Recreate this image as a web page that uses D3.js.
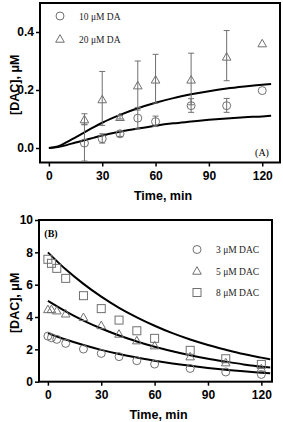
<!DOCTYPE html>
<html><head><meta charset="utf-8">
<script src="https://cdn.jsdelivr.net/npm/d3@7"></script>
<style>body{margin:0;background:#fff}svg{display:block}</style>
</head><body>
<script>
// ---- Panel A data ----
const timeA = [20, 30, 40, 50, 60, 80, 100, 120];
const da10 = [0.017, 0.032, 0.049, 0.103, 0.091, 0.146, 0.146, 0.198];
const da10Lo = [-0.045, 0.017, 0.040, 0.066, 0.074, 0.123, 0.123, null];
const da10Hi = [0.080, 0.049, 0.058, 0.140, 0.110, 0.170, 0.171, null];
const da20 = [0.098, 0.167, 0.106, 0.215, 0.235, 0.235, 0.314, 0.36];
const da20Lo = [0.082, 0.078, 0.100, 0.131, 0.155, 0.149, 0.232, null];
const da20Hi = [0.118, 0.264, 0.112, 0.300, 0.323, 0.327, 0.405, null];
const fitTimeA = [0, 5, 10, 15, 20, 25, 30, 40, 50, 60, 70, 80, 90, 100, 110, 120, 125];
const fitA20 = [0, 0.005, 0.02, 0.037, 0.054, 0.071, 0.087, 0.114, 0.137, 0.156, 0.172, 0.185, 0.196, 0.205, 0.212, 0.218, 0.221];
const fitA10 = [0, 0.003, 0.01, 0.019, 0.027, 0.035, 0.043, 0.056, 0.067, 0.077, 0.085, 0.091, 0.097, 0.102, 0.106, 0.109, 0.111];
const xTicksA = [0, 30, 60, 90, 120];
const yTicksA = [0.0, 0.2, 0.4];
const legendA = ["10 \u03bcM DA", "20 \u03bcM DA"];

// ---- Panel B data ----
const timeB = [0, 2, 5, 10, 20, 30, 40, 50, 60, 80, 100, 120];
const dac3 = [2.82, 2.72, 2.62, 2.37, 2.02, 1.75, 1.55, 1.30, 1.09, 0.82, 0.60, 0.45];
const dac5 = [4.47, 4.47, 4.39, 4.20, 3.98, 3.48, 2.95, 2.54, 2.23, 1.55, 1.18, 0.82];
const dac8 = [7.57, 7.32, 7.01, 6.39, 5.32, 4.52, 3.81, 3.15, 2.68, 1.94, 1.42, 1.07];
const fitTimeB = [0, 10, 20, 30, 40, 50, 60, 70, 80, 90, 100, 110, 120, 125];
const fitB8 = [8, 6.95, 6.05, 5.26, 4.57, 3.98, 3.46, 3.0, 2.61, 2.27, 1.98, 1.71, 1.49, 1.38];
const fitB5 = [5, 4.35, 3.78, 3.29, 2.86, 2.49, 2.16, 1.88, 1.63, 1.42, 1.24, 1.07, 0.93, 0.88];
const fitB3 = [3, 2.61, 2.27, 1.97, 1.71, 1.49, 1.30, 1.13, 0.98, 0.85, 0.74, 0.64, 0.56, 0.52];
const xTicksB = [0, 30, 60, 90, 120];
const yTicksB = [0, 2, 4, 6, 8, 10];
const legendB = ["3 \u03bcM DAC", "5 \u03bcM DAC", "8 \u03bcM DAC"];

const W = 283, H = 422;
const svg = d3.select("body").append("svg").attr("width", W).attr("height", H);
const gray = "#707070";
const tickFont = "bold 12px 'Liberation Sans', Arial, sans-serif";
const labelFont = "bold 12.5px 'Liberation Sans', Arial, sans-serif";
const serif = "'Liberation Serif', 'Times New Roman', serif";

function sym(g, type, x, y) {
  if (type === "circle") {
    g.append("circle").attr("cx", x).attr("cy", y).attr("r", 4)
      .attr("fill", "none").attr("stroke", gray).attr("stroke-width", 1);
  } else if (type === "triangle") {
    const s = 4.3;
    g.append("path").attr("d", `M${x},${y - s}L${x + s},${y + s * 0.75}L${x - s},${y + s * 0.75}Z`)
      .attr("fill", "none").attr("stroke", gray).attr("stroke-width", 1);
  } else {
    g.append("rect").attr("x", x - 4).attr("y", y - 4).attr("width", 8).attr("height", 8)
      .attr("fill", "none").attr("stroke", gray).attr("stroke-width", 1);
  }
}

function panel(opt) {
  const g = svg.append("g");
  const x = d3.scaleLinear().domain(opt.xd).range([opt.l, opt.r]);
  const y = d3.scaleLinear().domain(opt.yd).range([opt.b, opt.t]);
  // axes
  const ax = g.append("g").attr("transform", `translate(0,${opt.b})`)
    .call(d3.axisBottom(x).tickValues(opt.xt).tickSize(4).tickPadding(5).tickFormat(d3.format("d")));
  const ay = g.append("g").attr("transform", `translate(${opt.l},0)`)
    .call(d3.axisLeft(y).tickValues(opt.yt).tickSize(4).tickPadding(2).tickFormat(opt.yf));
  [ax, ay].forEach(a => {
    a.select(".domain").remove();
    a.selectAll("line").attr("stroke", "#000").attr("stroke-width", 1.5);
    a.selectAll("text").style("font", tickFont).attr("fill", "#000");
  });
  // frame
  g.append("rect").attr("x", opt.l).attr("y", opt.t).attr("width", opt.r - opt.l).attr("height", opt.b - opt.t)
    .attr("fill", "none").attr("stroke", "#000").attr("stroke-width", 2);
  // fit lines
  const line = d3.line().x(d => x(d[0])).y(d => y(d[1])).curve(d3.curveMonotoneX);
  opt.fits.forEach(f => {
    g.append("path").datum(opt.fitT.map((t, i) => [t, f[i]])).attr("d", line)
      .attr("fill", "none").attr("stroke", "#000").attr("stroke-width", 2);
  });
  // error bars
  (opt.errs || []).forEach(e => {
    opt.time.forEach((t, i) => {
      if (e.lo[i] == null) return;
      const cx = x(t);
      g.append("line").attr("x1", cx).attr("x2", cx).attr("y1", y(e.lo[i])).attr("y2", y(e.hi[i]))
        .attr("stroke", gray).attr("stroke-width", 1);
      [e.lo[i], e.hi[i]].forEach(v => g.append("line").attr("x1", cx - 3).attr("x2", cx + 3)
        .attr("y1", y(v)).attr("y2", y(v)).attr("stroke", gray).attr("stroke-width", 1));
    });
  });
  // points
  opt.series.forEach(s => {
    opt.time.forEach((t, i) => sym(g, s.type, x(t), y(s.v[i])));
  });
  // legend
  opt.legend.forEach((txt, i) => {
    const ly = opt.legY + i * opt.legDy;
    sym(g, opt.series[i].type, opt.legX, ly);
    g.append("text").attr("x", opt.legX + 19).attr("y", ly + 3.5).text(txt)
      .style("font-family", serif).style("font-size", "9.5px").attr("fill", "#222");
  });
  // axis labels
  g.append("text").attr("x", (opt.l + opt.r) / 2 + 3).attr("y", opt.b + 37).attr("text-anchor", "middle")
    .style("font", labelFont).text("Time, min");
  g.append("text").attr("transform", `translate(19,${(opt.t + opt.b) / 2 + 2}) rotate(-90)`)
    .attr("text-anchor", "middle").style("font", labelFont).text("[DAC], \u03bcM");
  g.append("text").attr("x", opt.tagX).attr("y", opt.tagY).attr("text-anchor", "middle")
    .style("font-family", serif).style("font-size", "10px").style("font-weight", opt.tagBold ? "bold" : "normal")
    .text(opt.tag);
}

panel({
  l: 40, r: 280, t: 3, b: 162.5, xd: [-5, 130], yd: [-0.05, 0.5],
  xt: xTicksA, yt: yTicksA, yf: d3.format(".1f"),
  time: timeA,
  series: [{ type: "circle", v: da10 }, { type: "triangle", v: da20 }],
  errs: [{ lo: da10Lo, hi: da10Hi }, { lo: da20Lo, hi: da20Hi }],
  fitT: fitTimeA, fits: [fitA20, fitA10],
  legend: legendA, legX: 60, legY: 16, legDy: 23,
  tag: "(A)", tagX: 262, tagY: 156, tagBold: false
});

panel({
  l: 39, r: 272, t: 220, b: 381.7, xd: [-5, 126], yd: [0, 10],
  xt: xTicksB, yt: yTicksB, yf: d3.format("d"),
  time: timeB,
  series: [{ type: "circle", v: dac3 }, { type: "triangle", v: dac5 }, { type: "square", v: dac8 }],
  errs: [],
  fitT: fitTimeB, fits: [fitB8, fitB5, fitB3],
  legend: legendB, legX: 197, legY: 249.5, legDy: 21.5,
  tag: "(B)", tagX: 51, tagY: 237, tagBold: true
});
</script>
</body></html>
